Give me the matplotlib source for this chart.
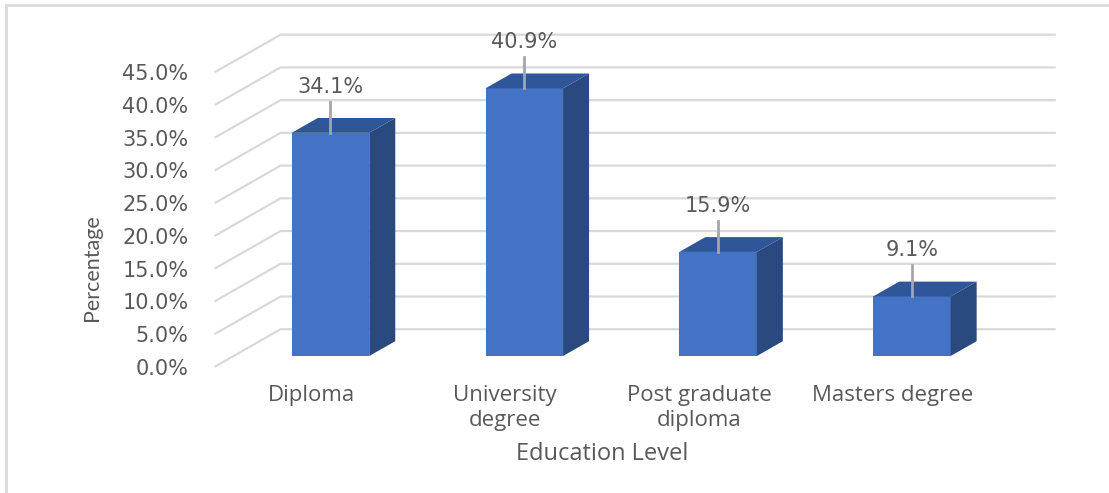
import numpy as np
import matplotlib.pyplot as plt
from matplotlib.patches import Polygon
from matplotlib.lines import Line2D

categories = ['Diploma', 'University\ndegree', 'Post graduate\ndiploma', 'Masters degree']
percent = [34.1, 40.9, 15.9, 9.1]
y_ticks = [0, 5, 10, 15, 20, 25, 30, 35, 40, 45]

front_col = '#4472C4'
top_col = '#30569A'
side_col = '#2A4A7F'
grid_col = '#D9D9D9'
text_col = '#595959'

W, H, DPI = 1109, 493, 100
fig = plt.figure(figsize=(W / DPI, H / DPI), dpi=DPI)
ax = fig.add_axes([0, 0, 1, 1])
ax.set_axis_off()

# bar front plane: category i centred at 330.5 px, 193.8 px apart; 0% at 137 px from bottom
x_scale, y_scale = 193.8, 6.545
ax.set_xlim(-330.5 / x_scale, (W - 330.5) / x_scale)
ax.set_ylim(-137 / y_scale, (H - 137) / y_scale)

slope = 0.57          # rise per pixel of depth


def shift(d):
    """data offsets for a depth of d pixels (positive = towards the back)"""
    return d / x_scale, slope * d / y_scale


d_front, d_bar, d_back = -19, 26, 47
bw = 0.4
x = np.arange(len(categories))

# back wall gridlines and side wall diagonals
fx, fy = shift(d_front)
bx, by = shift(d_back)
for t in y_ticks:
    ax.plot([-0.5 + fx, -0.5 + bx, 3.5 + bx], [t + fy, t + by, t + by],
            color=grid_col, lw=1.6, zorder=1, solid_capstyle='butt')
    tx = -0.5 + fx - 26 / x_scale
    ax.text(tx, t + fy - 2 / y_scale, f'{t:.1f}%', ha='right', va='center',
            fontsize=15, color=text_col, family='DejaVu Sans')

# 3-D columns: front face from ax.bar, top and side faces as polygons
ax.bar(x, percent, width=bw, color=front_col, zorder=3)
sx, sy = shift(d_bar)
for xi, v in zip(x, percent):
    l, r = xi - bw / 2, xi + bw / 2
    ax.add_patch(Polygon([(l, v), (r, v), (r + sx, v + sy), (l + sx, v + sy)],
                         closed=True, facecolor=top_col, edgecolor='none', zorder=3))
    ax.add_patch(Polygon([(r, 0), (r, v), (r + sx, v + sy), (r + sx, sy)],
                         closed=True, facecolor=side_col, edgecolor='none', zorder=3))
    # leader line and value label
    ax.plot([xi, xi], [v, v + 31 / y_scale], color='#A6A6A6', lw=2, zorder=4)
    ax.text(xi, v + 46 / y_scale, f'{v:.1f}%', ha='center', va='center',
            fontsize=15, color=text_col, family='DejaVu Sans', zorder=5)

# category labels sit on the front plane
for xi, c in zip(x, categories):
    ax.text(xi + fx, fy - 18 / y_scale, c, ha='center', va='top', linespacing=1.28,
            fontsize=16, color=text_col, family='Open Sans')

ax.text(1.5 + fx, fy - 87 / y_scale, 'Education Level', ha='center', va='center',
        fontsize=17, color=text_col, family='Open Sans')
ax.text(-0.5 + fx - 123 / x_scale, 13.5, 'Percentage', ha='center', va='center',
        rotation=90, fontsize=15.5, color=text_col, family='Lato')

# chart area border
fig.add_artist(Line2D([6 / W, 6 / W], [0, 1 - 5 / H], color=grid_col, lw=2, transform=fig.transFigure))
fig.add_artist(Line2D([6 / W, 1], [1 - 5 / H, 1 - 5 / H], color=grid_col, lw=2, transform=fig.transFigure))

fig.savefig('out.png', dpi=DPI, facecolor='white')
